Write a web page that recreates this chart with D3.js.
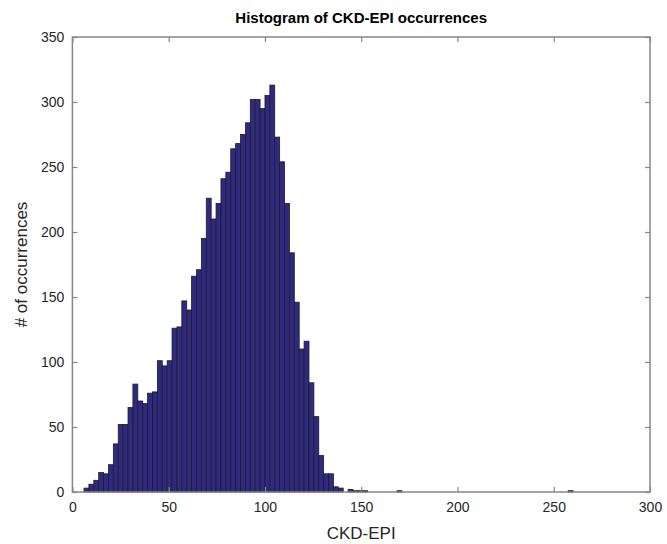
<!DOCTYPE html>
<html>
<head>
<meta charset="utf-8">
<script src="https://cdn.jsdelivr.net/npm/d3@7"></script>
<style>
  html, body { margin: 0; padding: 0; background: #fff; }
  svg { display: block; font-family: "Liberation Sans", Arial, Helvetica, sans-serif; }
</style>
</head>
<body>
<svg id="chart" width="667" height="544"></svg>
<script>
// Histogram of CKD-EPI values: 100 equal bins between the sample minimum and maximum
const binMin = 6.03;
const binMax = 260.05;
const binCounts = [
  3, 6, 9, 15, 14, 21, 37, 52, 52, 65,
  83, 70, 68, 76, 77, 101, 97, 101, 126, 127,
  147, 140, 166, 171, 195, 226, 210, 222, 241, 246,
  264, 268, 275, 284, 302, 302, 295, 305, 313, 273,
  254, 222, 184, 146, 110, 116, 84, 58, 28, 14,
  14, 4, 3, 0, 2, 1, 1, 1, 0, 0,
  0, 0, 0, 0, 1, 0, 0, 0, 0, 0,
  0, 0, 0, 0, 0, 0, 0, 0, 0, 0,
  0, 0, 0, 0, 0, 0, 0, 0, 0, 0,
  0, 0, 0, 0, 0, 0, 0, 0, 0, 1
];
const xTicks = [0, 50, 100, 150, 200, 250, 300];
const yTicks = [0, 50, 100, 150, 200, 250, 300, 350];
const xDomain = [0, 300];
const yDomain = [0, 350];

const titleText = "Histogram of CKD-EPI occurrences";
const xLabel = "CKD-EPI";
const yLabel = "# of occurrences";

const svg = d3.select("#chart");
const margin = { left: 72.4, right: 17, top: 37, bottom: 52 };
const W = 667, H = 544;

const x = d3.scaleLinear().domain(xDomain).range([margin.left, W - margin.right]);
const y = d3.scaleLinear().domain(yDomain).range([H - margin.bottom, margin.top]);

const binWidth = (binMax - binMin) / binCounts.length;
const bins = binCounts.map((c, i) => ({
  x0: binMin + i * binWidth,
  x1: binMin + (i + 1) * binWidth,
  count: c
}));

const axisColor = "#868686";
const textColor = "#262626";

// bars
svg.append("g")
  .selectAll("rect")
  .data(bins.filter(d => d.count > 0))
  .join("rect")
  .attr("x", d => x(d.x0))
  .attr("width", d => x(d.x1) - x(d.x0))
  .attr("y", d => y(d.count))
  .attr("height", d => y(0) - y(d.count))
  .attr("fill", "#2f2a7f")
  .attr("stroke", "#1c1c2a")
  .attr("stroke-width", 0.8);

// axes with inward ticks on all four sides
const tickLen = 5;
const axisBottomG = d3.axisBottom(x).tickValues(xTicks).tickSize(-tickLen).tickPadding(10);
const axisLeftG = d3.axisLeft(y).tickValues(yTicks).tickSize(-tickLen).tickPadding(8);
const axisTopG = d3.axisTop(x).tickValues(xTicks).tickSize(-tickLen).tickFormat("");
const axisRightG = d3.axisRight(y).tickValues(yTicks).tickSize(-tickLen).tickFormat("");

function styleAxis(g) {
  g.selectAll(".domain").remove();
  g.selectAll(".tick line").attr("stroke", axisColor).attr("stroke-width", 1.2);
  g.selectAll(".tick text")
    .attr("fill", textColor)
    .style("font-size", "14px");
}

svg.append("g").attr("transform", `translate(0,${y(0)})`).call(axisBottomG).call(styleAxis);
svg.append("g").attr("transform", `translate(${x(0)},0)`).call(axisLeftG).call(styleAxis);
svg.append("g").attr("transform", `translate(0,${y(350)})`).call(axisTopG).call(styleAxis);
svg.append("g").attr("transform", `translate(${x(300)},0)`).call(axisRightG).call(styleAxis);

// axes box
svg.append("rect")
  .attr("x", x(0))
  .attr("y", y(350))
  .attr("width", x(300) - x(0))
  .attr("height", y(0) - y(350))
  .attr("fill", "none")
  .attr("stroke", axisColor)
  .attr("stroke-width", 1.5);

// title and labels
svg.append("text")
  .attr("x", (x(0) + x(300)) / 2)
  .attr("y", 23)
  .attr("text-anchor", "middle")
  .attr("fill", "#000")
  .style("font-size", "15px")
  .style("font-weight", "bold")
  .text(titleText);

svg.append("text")
  .attr("x", (x(0) + x(300)) / 2)
  .attr("y", 539)
  .attr("text-anchor", "middle")
  .attr("fill", textColor)
  .style("font-size", "17px")
  .text(xLabel);

svg.append("text")
  .attr("transform", `translate(27,${(y(0) + y(350)) / 2}) rotate(-90)`)
  .attr("text-anchor", "middle")
  .attr("fill", textColor)
  .style("font-size", "17px")
  .text(yLabel);
</script>
</body>
</html>
